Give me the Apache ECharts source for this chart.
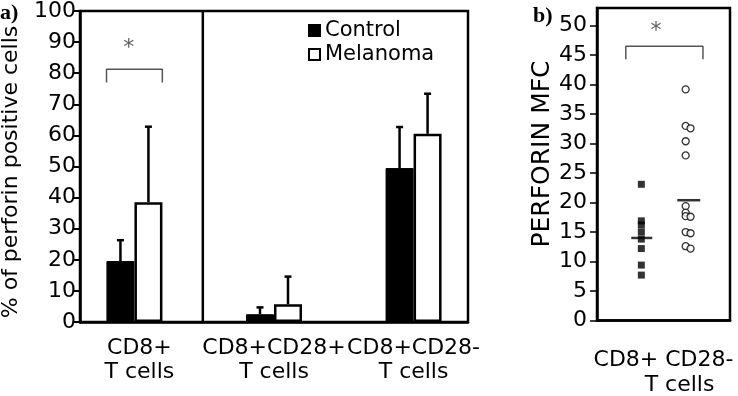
<!DOCTYPE html>
<html>
<head>
<meta charset="utf-8">
<script src="https://cdn.jsdelivr.net/npm/echarts@6/dist/echarts.min.js"></script>
<style>
  html, body { margin: 0; padding: 0; background: #fff; }
  #main { width: 738px; height: 396px; }
</style>
</head>
<body>
<div id="main"></div>
<script>
// panel a: % of perforin positive cells
var groupsA = ['CD8+\nT cells', 'CD8+CD28+\nT cells', 'CD8+CD28-\nT cells']
var controlA = [19.6, 2.5, 49.5]
var controlAUpper = [26.3, 4.7, 62.7]
var melanomaA = [38.5, 5.7, 60.5]
var melanomaAUpper = [62.8, 14.6, 73.4]
var yTicksA = [0, 10, 20, 30, 40, 50, 60, 70, 80, 90, 100]

// panel b: perforin MFC, CD8+ CD28- T cells
var controlB = [23.1, 16.9, 16.2, 15.0, 13.8, 12.2, 9.4, 7.7]
var melanomaB = [39.2, 33.0, 30.4, 28.0, 19.4, 18.3, 17.7, 15.0, 12.6]
var melanomaBSide = [32.6, 17.6, 14.8, 12.2] // circles drawn a bit to the right
var meanControlB = 14.0
var meanMelanomaB = 20.4
var yTicksB = [0, 5, 10, 15, 20, 25, 30, 35, 40, 45, 50]

var font = 'DejaVu Sans'
var myChart = echarts.init(document.getElementById('main'))

function errorBar(dx) {
  return function (params, api) {
    var base = api.coord([api.value(0), api.value(1)])
    var top = api.coord([api.value(0), api.value(2)])
    var cx = base[0] + dx
    return {
      type: 'group',
      children: [
        { type: 'line', shape: { x1: cx, y1: base[1], x2: cx, y2: top[1] }, style: { stroke: '#000', lineWidth: 2.5 } },
        { type: 'line', shape: { x1: cx - 3.5, y1: top[1], x2: cx + 3.5, y2: top[1] }, style: { stroke: '#000', lineWidth: 2.5 } }
      ]
    }
  }
}

// first group name sits a little right of its bars in the figure
var labelStyle = { fontFamily: font, fontSize: 22, color: '#000', lineHeight: 24 }
var richA = {
  g0: Object.assign({ padding: [0, 0, 0, 10] }, labelStyle),
  g1: Object.assign({}, labelStyle),
  g2: Object.assign({}, labelStyle)
}

var option = {
  animation: false,
  backgroundColor: '#fff',
  textStyle: { fontFamily: font, color: '#000' },
  grid: [
    { left: 80, right: 270, top: 6, bottom: 74, show: true, borderColor: '#000', borderWidth: 2.5 },
    { left: 597, right: 8, top: 8, bottom: 74, show: true, borderColor: '#000', borderWidth: 2.5 }
  ],
  legend: {
    data: ['Control', 'Melanoma'],
    orient: 'vertical',
    left: 303,
    top: 15,
    itemWidth: 11,
    itemHeight: 11,
    itemGap: 3,
    icon: 'rect',
    textStyle: { fontFamily: font, fontSize: 21, color: '#000', lineHeight: 21 }
  },
  xAxis: [
    {
      type: 'value', gridIndex: 0, min: -0.39, max: 2.39,
      splitLine: { show: false },
      axisLine: { onZero: false, lineStyle: { color: '#000', width: 2.5 } },
      axisTick: { show: false },
      axisLabel: {
        customValues: [0, 1, 2],
        formatter: function (v) {
          var i = Math.round(v)
          return groupsA[i].split('\n').map(function (s) { return '{g' + i + '|' + s + '}' }).join('\n')
        },
        margin: 14,
        rich: richA
      }
    },
    {
      type: 'value', gridIndex: 1, min: 0, max: 3,
      splitLine: { show: false },
      axisLine: { onZero: false, lineStyle: { color: '#000', width: 2.5 } },
      axisTick: { show: false },
      axisLabel: {
        customValues: [1.5],
        formatter: function () { return '{a|CD8+ CD28-}\n{b|T cells}' },
        margin: 27,
        rich: {
          a: { fontFamily: font, fontSize: 22, color: '#000', lineHeight: 25 },
          b: { fontFamily: font, fontSize: 22, color: '#000', lineHeight: 25, padding: [0, 0, 0, 32] }
        }
      }
    }
  ],
  yAxis: [
    {
      type: 'value', gridIndex: 0, min: 0, max: 100, interval: 10,
      splitLine: { show: false },
      axisLine: { show: true, onZero: false, lineStyle: { color: '#000', width: 2.5 } },
      axisTick: { show: true, length: 7, lineStyle: { color: '#000', width: 2 } },
      axisLabel: { fontFamily: font, fontSize: 22, color: '#000', margin: 4, padding: [10, 0, 0, 0],
        customValues: yTicksA }
    },
    {
      type: 'value', gridIndex: 1, min: 0, max: 53,
      splitLine: { show: false },
      axisLine: { show: true, onZero: false, lineStyle: { color: '#000', width: 2.5 } },
      axisTick: { show: true, length: 7, customValues: yTicksB, lineStyle: { color: '#000', width: 1.5 } },
      axisLabel: { fontFamily: font, fontSize: 22, color: '#000', margin: 10, customValues: yTicksB }
    }
  ],
  series: [
    {
      name: 'Control', type: 'bar', xAxisIndex: 0, yAxisIndex: 0,
      barWidth: 28, barGap: '0%',
      itemStyle: { color: '#000', borderColor: '#000', borderWidth: 1 },
      data: controlA.map(function (v, i) { return [i, v] })
    },
    {
      name: 'Melanoma', type: 'bar', xAxisIndex: 0, yAxisIndex: 0,
      barWidth: 28,
      itemStyle: { color: '#fff', borderColor: '#000', borderWidth: 2.5 },
      data: melanomaA.map(function (v, i) { return [i, v] })
    },
    {
      type: 'custom', xAxisIndex: 0, yAxisIndex: 0, z: 1,
      renderItem: errorBar(-14),
      data: controlA.map(function (v, i) { return [i, v, controlAUpper[i]] })
    },
    {
      type: 'custom', xAxisIndex: 0, yAxisIndex: 0, z: 1,
      renderItem: errorBar(14),
      data: melanomaA.map(function (v, i) { return [i, v, melanomaAUpper[i]] })
    },
    // divider between CD8+ and the CD28 subsets
    {
      type: 'line', xAxisIndex: 0, yAxisIndex: 0, symbol: 'none', silent: true,
      lineStyle: { color: '#000', width: 2.5 },
      data: [[0.49, 0], [0.49, 100]]
    },
    // significance bracket, panel a
    {
      type: 'line', xAxisIndex: 0, yAxisIndex: 0, symbol: 'none', silent: true,
      lineStyle: { color: '#555', width: 1.5 },
      data: [[-0.2, 77], [-0.2, 81.3], [0.2, 81.3], [0.2, 77]]
    },
    {
      type: 'scatter', xAxisIndex: 0, yAxisIndex: 0, symbolSize: 1, silent: true,
      itemStyle: { color: 'rgba(0,0,0,0)' },
      label: { show: true, position: 'inside', formatter: '*', fontFamily: font, fontSize: 22, color: '#333' },
      data: [[-0.04, 88]]
    },
    // panel b
    {
      name: 'Control b', type: 'scatter', xAxisIndex: 1, yAxisIndex: 1,
      symbol: 'rect', symbolSize: 7, itemStyle: { color: '#000' },
      data: controlB.map(function (v) { return [1, v] })
    },
    {
      name: 'Melanoma b', type: 'scatter', xAxisIndex: 1, yAxisIndex: 1,
      symbol: 'circle', symbolSize: 7,
      itemStyle: { color: '#fff', borderColor: '#000', borderWidth: 1.3 },
      data: melanomaB.map(function (v) { return [2, v] })
        .concat(melanomaBSide.map(function (v) { return [2.11, v] }))
    },
    {
      type: 'scatter', xAxisIndex: 1, yAxisIndex: 1, z: 5,
      symbol: 'rect', itemStyle: { color: '#000' },
      data: [
        { value: [1.01, meanControlB], symbolSize: [21, 2.5] },
        { value: [2.07, meanMelanomaB], symbolSize: [23, 2.5] }
      ]
    },
    {
      type: 'line', xAxisIndex: 1, yAxisIndex: 1, symbol: 'none', silent: true,
      lineStyle: { color: '#555', width: 1.5 },
      data: [[0.65, 44.3], [0.65, 46.5], [2.39, 46.5], [2.39, 44.3]]
    },
    {
      type: 'scatter', xAxisIndex: 1, yAxisIndex: 1, symbolSize: 1, silent: true,
      itemStyle: { color: 'rgba(0,0,0,0)' },
      label: { show: true, position: 'inside', formatter: '*', fontFamily: font, fontSize: 22, color: '#333' },
      data: [[1.33, 49]]
    }
  ],
  graphic: [
    { type: 'text', x: 11, y: 172, rotation: Math.PI / 2,
      style: { text: '% of perforin positive cells', fontFamily: font, fontSize: 22, fill: '#000', align: 'center', verticalAlign: 'middle' } },
    { type: 'text', x: 542, y: 154, rotation: Math.PI / 2,
      style: { text: 'PERFORIN MFC', fontFamily: font, fontSize: 25, fill: '#000', align: 'center', verticalAlign: 'middle' } },
    { type: 'text', x: 0, y: 13,
      style: { text: 'a)', fontFamily: 'Liberation Serif', fontWeight: 'bold', fontSize: 22, fill: '#000', align: 'left', verticalAlign: 'middle' } },
    { type: 'text', x: 533, y: 16,
      style: { text: 'b)', fontFamily: 'Liberation Serif', fontWeight: 'bold', fontSize: 22, fill: '#000', align: 'left', verticalAlign: 'middle' } }
  ]
}

myChart.setOption(option)
</script>
</body>
</html>
